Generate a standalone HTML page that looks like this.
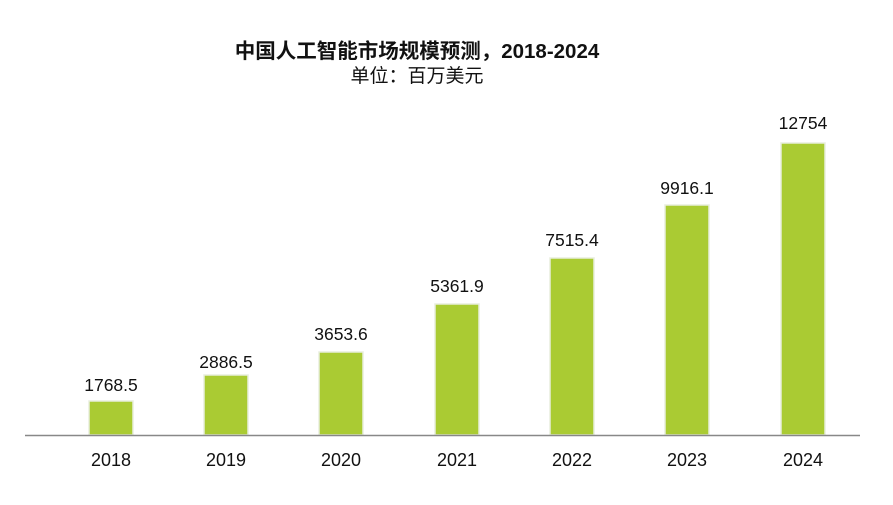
<!DOCTYPE html>
<html><head><meta charset="utf-8"><style>
body{margin:0;background:#fff;}
svg text{font-family:"Liberation Sans","Noto Sans CJK SC",sans-serif;fill:#111;}
</style></head><body>
<svg width="893" height="500" viewBox="0 0 893 500" xmlns="http://www.w3.org/2000/svg">
<text x="417" y="58" text-anchor="middle" font-size="20.5" font-weight="bold">中国人工智能市场规模预测，2018-2024</text>
<text x="417" y="82" text-anchor="middle" font-size="19">单位：百万美元</text>
<g fill="#aacb33" stroke="#e8eedd" stroke-width="1.5">
<rect x="89" y="401" width="44" height="34"/>
<rect x="204" y="375" width="44" height="60"/>
<rect x="319" y="352" width="44" height="83"/>
<rect x="435" y="304" width="44" height="131"/>
<rect x="550" y="258" width="44" height="177"/>
<rect x="665" y="205" width="44" height="230"/>
<rect x="781" y="143" width="44" height="292"/>
</g>
<line x1="25" y1="435.5" x2="860" y2="435.5" stroke="#888" stroke-width="1.5"/>
<g font-size="17.5" text-anchor="middle">
<text x="111" y="391">1768.5</text>
<text x="226" y="368">2886.5</text>
<text x="341" y="340">3653.6</text>
<text x="457" y="292">5361.9</text>
<text x="572" y="246">7515.4</text>
<text x="687" y="194">9916.1</text>
<text x="803" y="129">12754</text>
</g>
<g font-size="18" text-anchor="middle">
<text x="111" y="466">2018</text>
<text x="226" y="466">2019</text>
<text x="341" y="466">2020</text>
<text x="457" y="466">2021</text>
<text x="572" y="466">2022</text>
<text x="687" y="466">2023</text>
<text x="803" y="466">2024</text>
</g>
</svg>
</body></html>
